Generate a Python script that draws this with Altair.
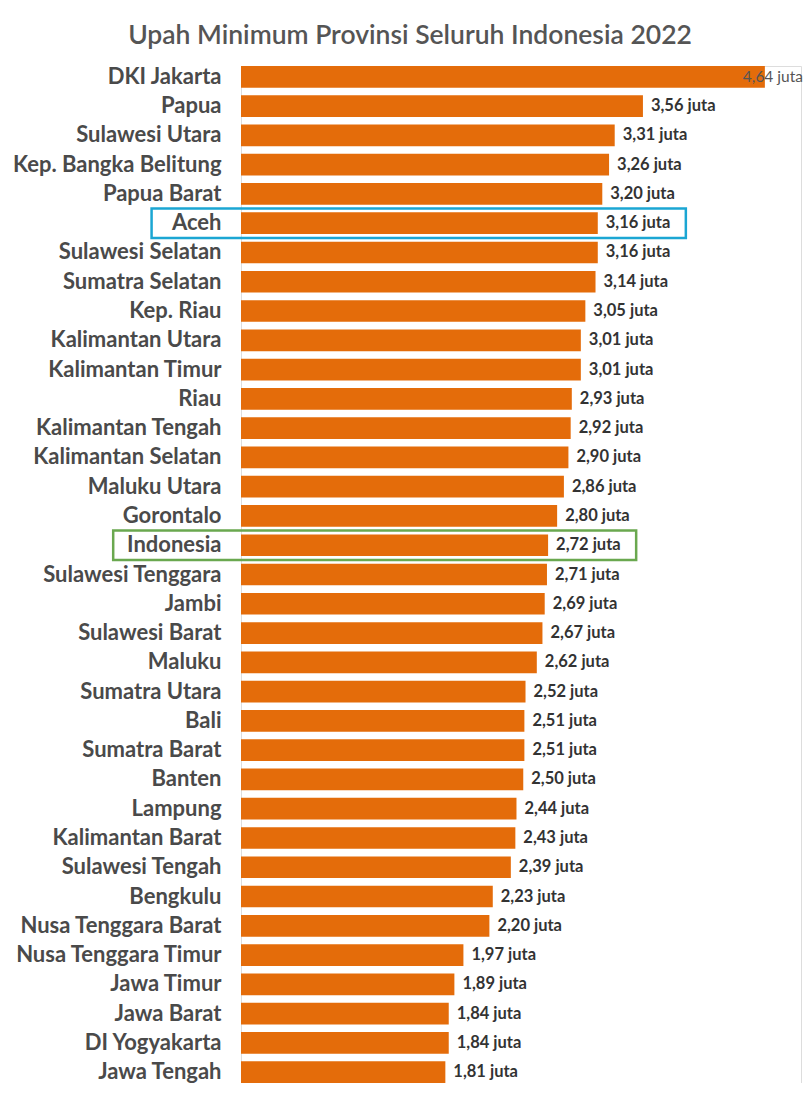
import altair as alt
import pandas as pd

provinces = [
    "DKI Jakarta", "Papua", "Sulawesi Utara", "Kep. Bangka Belitung", "Papua Barat",
    "Aceh", "Sulawesi Selatan", "Sumatra Selatan", "Kep. Riau", "Kalimantan Utara",
    "Kalimantan Timur", "Riau", "Kalimantan Tengah", "Kalimantan Selatan", "Maluku Utara",
    "Gorontalo", "Indonesia", "Sulawesi Tenggara", "Jambi", "Sulawesi Barat",
    "Maluku", "Sumatra Utara", "Bali", "Sumatra Barat", "Banten",
    "Lampung", "Kalimantan Barat", "Sulawesi Tengah", "Bengkulu", "Nusa Tenggara Barat",
    "Nusa Tenggara Timur", "Jawa Timur", "Jawa Barat", "DI Yogyakarta", "Jawa Tengah",
]
ump_juta = [
    4.64, 3.56, 3.31, 3.26, 3.20,
    3.16, 3.16, 3.14, 3.05, 3.01,
    3.01, 2.93, 2.92, 2.90, 2.86,
    2.80, 2.72, 2.71, 2.69, 2.67,
    2.62, 2.52, 2.51, 2.51, 2.50,
    2.44, 2.43, 2.39, 2.23, 2.20,
    1.97, 1.89, 1.84, 1.84, 1.81,
]
highlight_names = ["Aceh", "Indonesia"]
highlight_colors = ["#1BA6D3", "#6AA84F"]

df = pd.DataFrame({"name": provinces, "value": ump_juta})
hl = pd.DataFrame({
    "name": highlight_names,
    "color": highlight_colors,
    "value": [ump_juta[provinces.index(n)] for n in highlight_names],
})

FONT = "Lato"
y_enc = alt.Y(
    "name:N",
    sort=provinces,
    title=None,
    scale=alt.Scale(paddingInner=0.26, paddingOuter=0),
    axis=alt.Axis(
        domain=False, ticks=False, tickSize=0, labelPadding=20,
        labelFont=FONT, labelFontSize=22, labelFontWeight="bold",
        labelColor="#4A4A4A", labelLimit=300,
    ),
)
x_scale = alt.Scale(domain=[0, 4.96], nice=False, zero=True)

base = alt.Chart(df)

bars = base.mark_bar(color="#E46C0A").encode(
    y=y_enc,
    x=alt.X("value:Q", scale=x_scale, axis=None),
)

label_calc = "replace(format(datum.value, '.2f'), '.', ',') + ' juta'"

labels = base.transform_filter("datum.value < 4.5").transform_calculate(
    label=label_calc
).mark_text(
    align="left", baseline="middle", dx=8, font=FONT, fontSize=16.5,
    fontWeight="bold", color="#333333",
).encode(
    y=alt.Y("name:N", sort=provinces),
    x=alt.X("value:Q", scale=x_scale),
    text="label:N",
)

top_label = base.transform_filter("datum.value >= 4.5").transform_calculate(
    label=label_calc
).mark_text(
    align="left", baseline="middle", dx=-22, font=FONT, fontSize=15.5,
    fontWeight="normal", color="#555555",
).encode(
    y=alt.Y("name:N", sort=provinces),
    x=alt.X("value:Q", scale=x_scale),
    text="label:N",
)

boxes = alt.Chart(hl).transform_calculate(
    left="-(length(datum.name) * 0.068 + 0.52)",
    right="datum.value + 0.78",
).mark_bar(filled=False, size=29.5, strokeWidth=2.5).encode(
    y=alt.Y("name:N", sort=provinces),
    x=alt.X("left:Q", scale=x_scale),
    x2="right:Q",
    stroke=alt.Color("color:N", scale=None),
)

chart = alt.layer(bars, labels, top_label, boxes).properties(
    width=560,
    height=1017,
    autosize=alt.AutoSizeParams(type="none"),
    padding={"left": 233, "top": 58, "right": 2, "bottom": 0},
    title=alt.TitleParams(
        "Upah Minimum Provinsi Seluruh Indonesia 2022",
        font=FONT, fontSize=26.5, fontWeight=600, color="#555555",
        anchor="middle", frame="group", dx=-111, offset=-5,
        baseline="alphabetic",
    ),
).configure_view(strokeWidth=0).configure(background="white")

chart.save("out.html", embed_options={"renderer": "svg", "actions": False})
